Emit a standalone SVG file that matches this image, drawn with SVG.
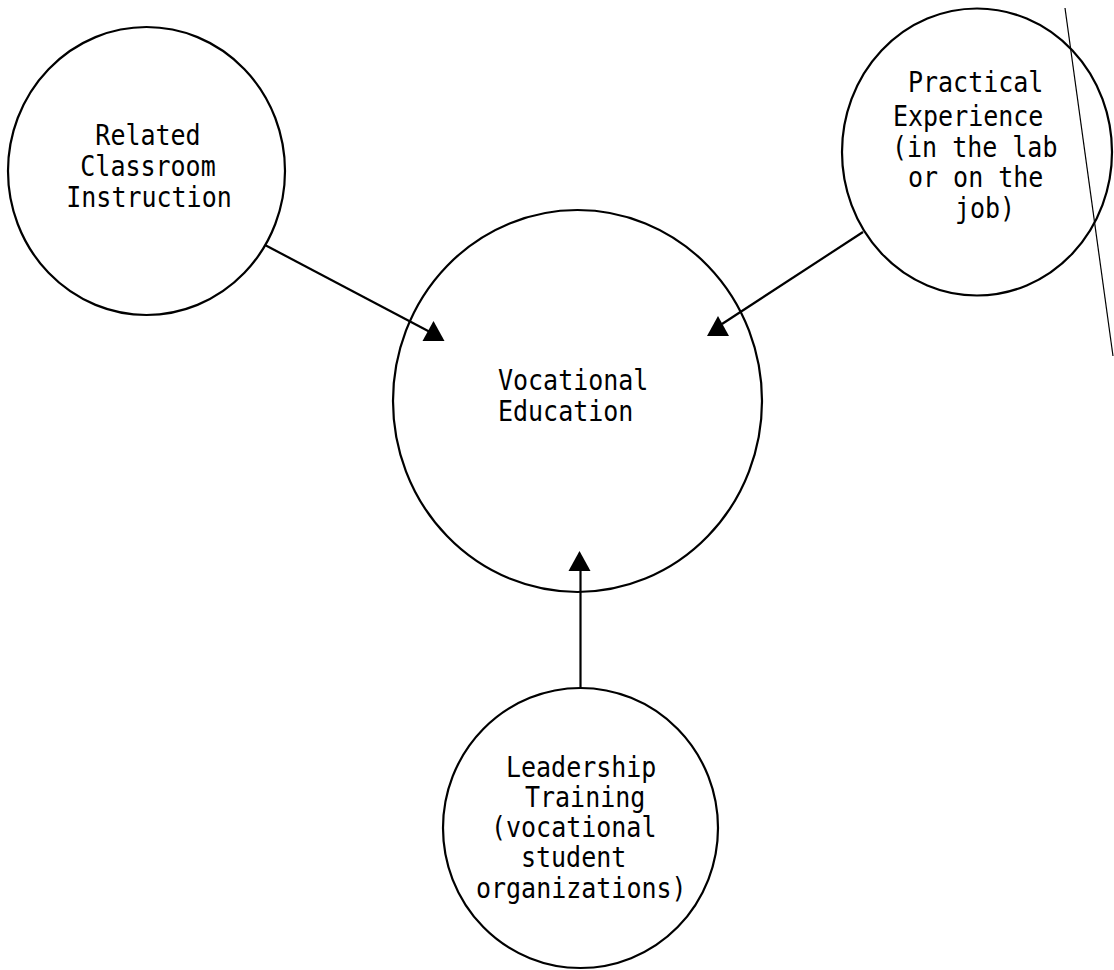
<svg xmlns="http://www.w3.org/2000/svg" width="1114" height="970" viewBox="0 0 1114 970">
  <style>
    .node { fill: none; stroke: #000; stroke-width: 2.2; }
    .conn { fill: none; stroke: #000; stroke-width: 2.2; }
    .lbl { font-family: "DejaVu Sans Mono", "Liberation Mono", monospace; font-size: 25px; fill: #000; }
    .mid { text-anchor: middle; }
  </style>
  <defs>
    <path id="tri" d="M0,-10 L-11,10 L11,10 Z" fill="#000"/>
  </defs>
  <rect width="1114" height="970" fill="#fff"/>

  <g id="connectors">
    <line class="conn" x1="265" y1="245" x2="430" y2="332"/>
    <use href="#tri" x="433.5" y="331"/>
    <line class="conn" x1="863" y1="232" x2="722" y2="324"/>
    <use href="#tri" x="718" y="326"/>
    <line class="conn" x1="580.5" y1="570" x2="580.5" y2="688"/>
    <use href="#tri" x="579.5" y="561"/>
  </g>

  <g id="node-related">
    <ellipse class="node" cx="146.5" cy="171" rx="138.5" ry="144"/>
    <text class="lbl mid" transform="translate(148,145) scale(1,1.13)">Related</text>
    <text class="lbl mid" transform="translate(148,176) scale(1,1.13)">Classroom</text>
    <text class="lbl mid" transform="translate(149,207) scale(1,1.13)">Instruction</text>
  </g>

  <g id="node-practical">
    <ellipse class="node" cx="977" cy="152" rx="135" ry="143.5"/>
    <text class="lbl" transform="translate(908,92) scale(1,1.13)">Practical</text>
    <text class="lbl" transform="translate(893,126) scale(1,1.13)">Experience</text>
    <text class="lbl" transform="translate(892,157) scale(1,1.13)">(in the lab</text>
    <text class="lbl" transform="translate(908,187) scale(1,1.13)">or on the</text>
    <text class="lbl" transform="translate(955,218) scale(1,1.13)">job)</text>
  </g>

  <g id="node-vocational">
    <ellipse class="node" cx="577.5" cy="401" rx="184.5" ry="191"/>
    <text class="lbl" transform="translate(498,390) scale(1,1.13)">Vocational</text>
    <text class="lbl" transform="translate(498,421) scale(1,1.13)">Education</text>
  </g>

  <g id="node-leadership">
    <ellipse class="node" cx="580.5" cy="828" rx="137.5" ry="140"/>
    <text class="lbl" transform="translate(506,777) scale(1,1.13)">Leadership</text>
    <text class="lbl" transform="translate(525,807) scale(1,1.13)">Training</text>
    <text class="lbl" transform="translate(491,837) scale(1,1.13)">(vocational</text>
    <text class="lbl" transform="translate(521,867) scale(1,1.13)">student</text>
    <text class="lbl" transform="translate(476,898) scale(1,1.13)">organizations)</text>
  </g>

  <path d="M1065,8 L1113,356" fill="none" stroke="#000" stroke-width="1.2"/>
</svg>
